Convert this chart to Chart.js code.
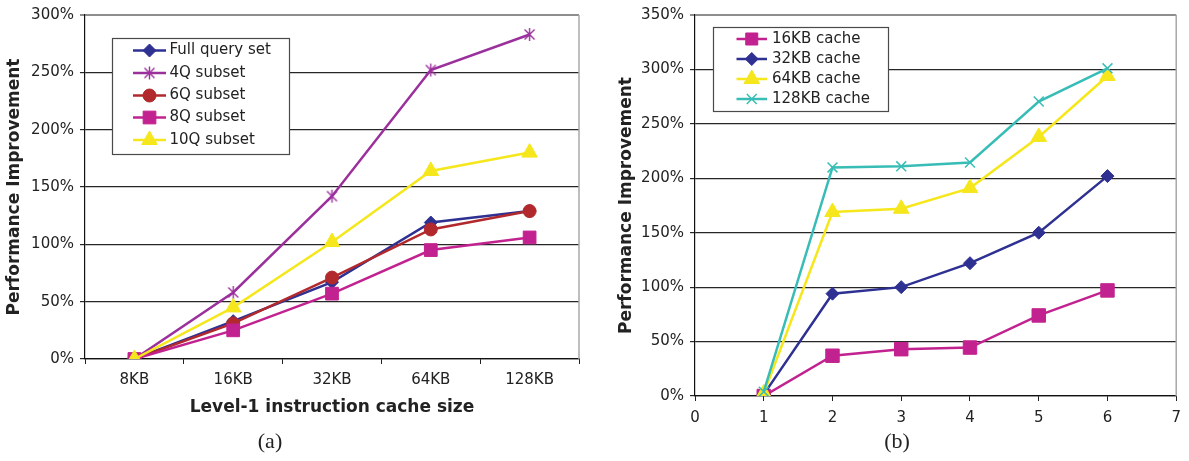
<!DOCTYPE html>
<html>
<head>
<meta charset="utf-8">
<script src="https://cdn.jsdelivr.net/npm/chart.js@4.4.1/dist/chart.umd.min.js"></script>
<style>
  html, body { margin: 0; padding: 0; background: #fff; }
  #wrap { position: relative; width: 1189px; height: 461px; overflow: hidden; background: #fff; }
  canvas { position: absolute; top: 0; }
  #chartA { left: 0; }
  #chartB { left: 600px; }
  .cap {
    position: absolute;
    font-family: "Liberation Serif", "DejaVu Serif", serif;
    font-size: 22px;
    color: #222;
    line-height: 1;
    transform: translate(-50%, -50%);
  }
</style>
</head>
<body>
<div id="wrap">
  <canvas id="chartA" width="600" height="461"></canvas>
  <canvas id="chartB" width="589" height="461"></canvas>
  <div class="cap" style="left:270px; top:441px;">(a)</div>
  <div class="cap" style="left:897px; top:441px;">(b)</div>
</div>
<script>
// ---- (a) speed-up per L1 instruction cache size, by query set ----
const cacheSizes   = ['8KB', '16KB', '32KB', '64KB', '128KB'];
const fullQuerySet = [0, 33, 67, 119, 129];
const subset4Q     = [0, 58, 142, 252, 283];
const subset6Q     = [0, 31, 71, 113, 129];
const subset8Q     = [0, 25, 57, 95, 106];
const subset10Q    = [0, 45, 102, 164, 180];

// ---- (b) speed-up per x step, by cache size ----
const stepIndex  = [1, 2, 3, 4, 5, 6];
const cache16KB  = [0, 37, 43, 44.5, 74, 97];
const cache32KB  = [1.5, 94, 100, 122, 150, 202];
const cache64KB  = [2.5, 169, 172, 191, 238, 294];
const cache128KB = [4, 210, 211, 214.5, 270.5, 301];

const NAVY = '#2E3192', PURPLE = '#9B309D', DARKRED = '#B1292D',
      MAGENTA = '#C2228F', YELLOW = '#F5E71C', TEAL = '#38BDB6';

Chart.defaults.font.family = '"DejaVu Sans", Verdana, sans-serif';
Chart.defaults.font.size = 15;
Chart.defaults.color = '#222';

// Excel-style asterisk marker: an X crossed by a vertical bar
function starMarker(color) {
  const c = document.createElement('canvas');
  c.width = 15; c.height = 15;
  const g = c.getContext('2d');
  const m = 7.5, r = 6.5, d = 5;
  g.strokeStyle = color;
  g.lineWidth = 1.4;
  g.beginPath();
  g.moveTo(m, m - r); g.lineTo(m, m + r);
  g.moveTo(m - d, m - d); g.lineTo(m + d, m + d);
  g.moveTo(m + d, m - d); g.lineTo(m - d, m + d);
  g.stroke();
  return c;
}

function series(label, data, color, style, radius, extra) {
  return Object.assign({
    label, data,
    borderColor: color, backgroundColor: color,
    borderWidth: 2.5, tension: 0, fill: false,
    pointStyle: style, pointRadius: radius, pointHoverRadius: radius,
    pointBackgroundColor: color, pointBorderColor: color, pointBorderWidth: 1
  }, extra || {});
}

// Later series are painted over earlier ones
function stackOrder(list) { list.forEach((d, i) => { d.order = -i; }); return list; }

// Boxed legend placed inside the plot area
const boxLegend = {
  id: 'boxLegend',
  beforeDatasetsDraw(chart, args, o) {
    const ctx = chart.ctx;
    ctx.save();
    ctx.fillStyle = '#fff';
    ctx.fillRect(o.x, o.y, o.w, o.h);
    ctx.strokeStyle = '#4a4a4a';
    ctx.lineWidth = 1.2;
    ctx.strokeRect(o.x + 0.5, o.y + 0.5, o.w, o.h);
    chart.data.datasets.forEach((d, i) => {
      const y = o.rowY[i];
      ctx.strokeStyle = d.borderColor;
      ctx.lineWidth = d.borderWidth;
      ctx.beginPath();
      ctx.moveTo(o.lineX1, y);
      ctx.lineTo(o.lineX2, y);
      ctx.stroke();
      ctx.fillStyle = d.pointBackgroundColor;
      ctx.strokeStyle = d.pointBorderColor;
      ctx.lineWidth = d.pointBorderWidth;
      Chart.helpers.drawPoint(ctx, {
        pointStyle: d.pointStyle, rotation: 0,
        radius: d.legendRadius || d.pointRadius, borderWidth: d.pointBorderWidth
      }, (o.lineX1 + o.lineX2) / 2, y);
      ctx.fillStyle = '#222';
      ctx.font = o.font;
      ctx.textAlign = 'left';
      ctx.textBaseline = 'middle';
      ctx.fillText(d.label, o.textX, y);
    });
    ctx.restore();
  }
};

// Light frame on the right edge of the plot
const plotFrame = {
  id: 'plotFrame',
  beforeDatasetsDraw(chart) {
    const { ctx, chartArea: a } = chart;
    ctx.save();
    ctx.strokeStyle = '#a8a8a8';
    ctx.lineWidth = 1.5;
    ctx.beginPath();
    ctx.moveTo(a.right, a.top);
    ctx.lineTo(a.right, a.bottom);
    ctx.stroke();
    ctx.restore();
  }
};

function yAxis(max, width) {
  return {
    min: 0, max: max,
    ticks: { stepSize: 50, padding: 6, callback: v => v + '%', color: '#222' },
    grid: {
      color: c => (c.tick && c.tick.value === max) ? '#8e8e8e' : '#262626',
      lineWidth: c => (c.tick && c.tick.value === max) ? 2 : 1.2,
      tickLength: 5
    },
    border: { color: '#111', width: 1.2 },
    title: {
      display: true, text: 'Performance Improvement', color: '#222',
      font: { size: 17, weight: 'bold' }, padding: { top: 4, bottom: 0 }
    },
    afterFit: s => { s.width = width; }
  };
}

const legendFontA = '15px "DejaVu Sans", Verdana, sans-serif';

new Chart(document.getElementById('chartA'), {
  type: 'line',
  data: {
    labels: cacheSizes,
    datasets: stackOrder([
      series('Full query set', fullQuerySet, NAVY, 'rectRot', 6.5),
      series('4Q subset', subset4Q, PURPLE, starMarker(PURPLE), 7),
      series('6Q subset', subset6Q, DARKRED, 'circle', 6.5),
      series('8Q subset', subset8Q, MAGENTA, 'rect', 9),
      series('10Q subset', subset10Q, YELLOW, 'triangle', 9)
    ])
  },
  options: {
    responsive: false, animation: false, devicePixelRatio: 1,
    layout: { padding: { top: 14, right: 21, bottom: 40, left: 0 } },
    plugins: {
      legend: { display: false }, tooltip: { enabled: false },
      boxLegend: {
        x: 112, y: 38, w: 177, h: 116,
        rowY: [50.5, 73, 95.5, 117.5, 140],
        lineX1: 133, lineX2: 166, textX: 169.5, font: legendFontA
      }
    },
    scales: {
      x: {
        type: 'category', offset: true,
        grid: { offset: true, drawOnChartArea: false, tickLength: 5, color: '#222' },
        border: { color: '#111', width: 1.2 },
        ticks: { padding: 7, color: '#222' },
        title: {
          display: true, text: 'Level-1 instruction cache size', color: '#222',
          font: { size: 17, weight: 'bold' }, padding: { top: 4, bottom: 3 }
        },
        afterFit: s => { s.height = 62; }
      },
      y: yAxis(300, 85)
    }
  },
  plugins: [plotFrame, boxLegend]
});

const pairs = vals => stepIndex.map((x, i) => ({ x: x, y: vals[i] }));

new Chart(document.getElementById('chartB'), {
  type: 'line',
  data: {
    datasets: stackOrder([
      series('16KB cache', pairs(cache16KB), MAGENTA, 'rect', 9.5, { legendRadius: 8.5 }),
      series('32KB cache', pairs(cache32KB), NAVY, 'rectRot', 6.5),
      series('64KB cache', pairs(cache64KB), YELLOW, 'triangle', 9),
      series('128KB cache', pairs(cache128KB), TEAL, 'crossRot', 7, { pointBorderWidth: 1.5 })
    ])
  },
  options: {
    responsive: false, animation: false, devicePixelRatio: 1,
    layout: { padding: { top: 14, right: 7, bottom: 30, left: 12 } },
    plugins: {
      legend: { display: false }, tooltip: { enabled: false },
      boxLegend: {
        x: 113, y: 27, w: 175, h: 84,
        rowY: [39, 59, 79, 99],
        lineX1: 136.5, lineX2: 167, textX: 172, font: legendFontA
      }
    },
    scales: {
      x: {
        type: 'linear', min: 0, max: 7,
        grid: { drawOnChartArea: false, tickLength: 5, color: '#222' },
        border: { color: '#111', width: 1.2 },
        ticks: { stepSize: 1, padding: 8, color: '#222' },
        afterFit: s => { s.height = 35; }
      },
      y: yAxis(350, 83)
    }
  },
  plugins: [plotFrame, boxLegend]
});
</script>
</body>
</html>
